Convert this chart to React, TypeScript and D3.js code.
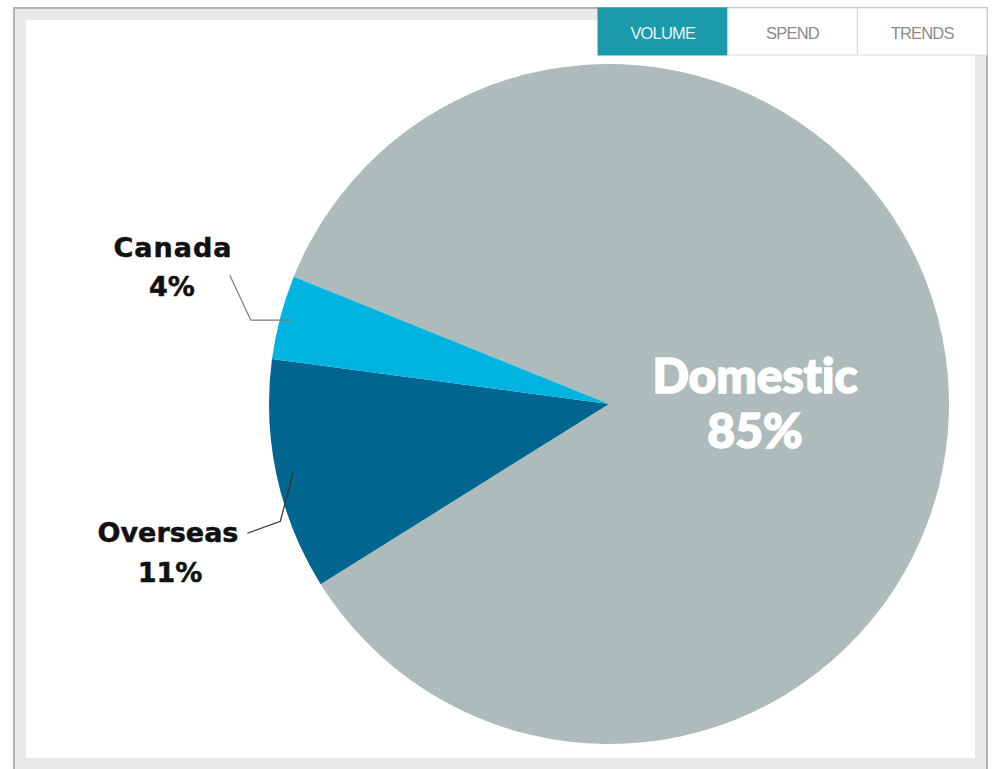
import React from "react";
import * as d3 from "d3";

const categories = ["Domestic", "Overseas", "Canada"];
const shares = [85, 11, 4];
const sliceColors = ["#adbbba", "#00658f", "#00b4e1"];
const tabs = ["VOLUME", "SPEND", "TRENDS"];
const activeTab = "VOLUME";

const W = 992;
const H = 769;
const cx = 609;
const cy = 404;
const R = 340;
const startDeg = -68;

export default function App() {
  const pie = d3
    .pie<number>()
    .sort(null)
    .value((d) => d)
    .startAngle((startDeg * Math.PI) / 180)
    .endAngle((startDeg * Math.PI) / 180 + 2 * Math.PI);
  const arcs = pie(shares);
  const arcGen = d3.arc<d3.PieArcDatum<number>>().innerRadius(0).outerRadius(R);

  const polar = (a: number, r: number) => [cx + r * Math.sin(a), cy - r * Math.cos(a)];

  const tabX = d3.scaleBand<string>().domain(tabs).range([598, 987]);

  // leader lines
  const mid = (i: number) => (arcs[i].startAngle + arcs[i].endAngle) / 2;
  const overA = polar(mid(1), R * 0.95);
  const overB = [overA[0] - 13, overA[1] + 49];
  const overC = [overB[0] - 33, overB[1] + 12];
  const canA = polar(mid(2), R * 0.965);
  const canB = [canA[0] - 41, canA[1]];
  const canC = [canB[0] - 21, canB[1] - 45];

  const labelFont = "'DejaVu Sans', sans-serif";

  return (
    <svg
      width={W}
      height={H}
      style={{ position: "absolute", left: 0, top: 0, background: "#fff" }}
    >
      {/* frame */}
      <rect x={14} y={8} width={973} height={H} fill="#e9e9e9" stroke="#b3b3b3" strokeWidth={2} />
      <rect x={26} y={20} width={949} height={738} fill="#fff" />

      {/* tabs */}
      {tabs.map((t) => {
        const x = tabX(t)!;
        const w = tabX.bandwidth();
        const active = t === activeTab;
        return (
          <g key={t}>
            <rect
              x={x}
              y={8}
              width={w}
              height={47}
              fill={active ? "#1a9aab" : "#fff"}
              stroke={active ? "#1a9aab" : "#dcdcdc"}
              strokeWidth={1}
            />
            <text
              x={x + w / 2}
              y={39}
              textAnchor="middle"
              fontFamily="'Liberation Sans', Arial, sans-serif"
              fontSize={16.5}
              letterSpacing={-0.8}
              fill={active ? "#e6f6f8" : "#8a8a8a"}
            >
              {t}
            </text>
          </g>
        );
      })}

      {/* pie */}
      <g transform={`translate(${cx},${cy})`}>
        {arcs.map((a, i) => (
          <path key={categories[i]} d={arcGen(a) || ""} fill={sliceColors[i]} />
        ))}
      </g>

      {/* leader lines */}
      <polyline
        points={[canA, canB, canC].map((p) => p.join(",")).join(" ")}
        fill="none"
        stroke="#7a7a7a"
        strokeWidth={1.2}
      />
      <polyline
        points={[overA, overB, overC].map((p) => p.join(",")).join(" ")}
        fill="none"
        stroke="#333"
        strokeWidth={1.2}
      />

      {/* labels */}
      <g
        fontFamily="Lato, sans-serif"
        fontWeight={900}
        fill="#fff"
        stroke="#fff"
        strokeWidth={1.6}
        textAnchor="middle"
        fontSize={48}
        style={{ fontVariantLigatures: "none" }}
      >
        <text x={755} y={393}>{categories[0]}</text>
        <text x={755} y={448}>{shares[0]}%</text>
      </g>
      <g
        fontFamily={labelFont}
        fontWeight={700}
        fill="#111"
        stroke="#111"
        strokeWidth={0.5}
        textAnchor="middle"
        fontSize={27}
      >
        <text x={173} y={257} letterSpacing={1}>{categories[2]}</text>
        <text x={172} y={296}>{shares[2]}%</text>
        <text x={168} y={542}>{categories[1]}</text>
        <text x={170} y={582}>{shares[1]}%</text>
      </g>
    </svg>
  );
}
